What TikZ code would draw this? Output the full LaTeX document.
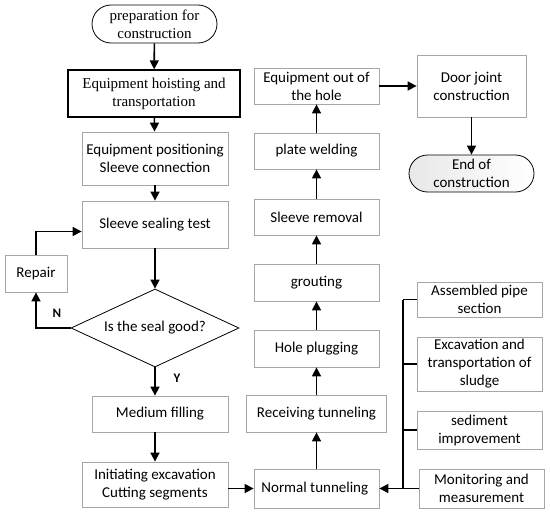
\documentclass[tikz,border=0pt]{standalone}
\usepackage{fontspec}
\setmainfont{Carlito}
\newfontfamily\serifface{Liberation Serif}
\usetikzlibrary{shapes.geometric,arrows.meta}

\begin{document}
\begin{tikzpicture}[x=1pt, y=-1pt,
        box/.style={draw=gray!70, line width=0.8pt, align=center, inner sep=0pt,
            minimum width=125pt, minimum height=37pt, font=\fontsize{15}{18}\selectfont},
        serifbox/.style={box, draw=black, font=\serifface\fontsize{15}{18}\selectfont},
        arr/.style={line width=1.6pt, -{Triangle[length=9pt, width=9pt]}},
        link/.style={line width=1.6pt}
    ]
    \useasboundingbox (0,0) rectangle (550,522);

    % left column
    \node[serifbox, rounded corners=19pt, minimum width=125pt, minimum height=38pt] (prep) at (154.5,24) {preparation for\\construction};
    \node[serifbox, line width=1.4pt, minimum width=172pt, minimum height=47pt] (hoist) at (154,93.5) {Equipment hoisting and\\transportation};
    \node[box, minimum width=146pt, minimum height=53pt] (posit) at (155,158.5) {Equipment positioning\\Sleeve connection};
    \node[box, minimum width=146pt, minimum height=47pt] (seal) at (155,224.5) {Sleeve sealing test};
    \node[box, minimum width=62pt] (repair) at (36,273.5) {Repair};
    \node[box, draw=black, diamond, aspect=2.15, minimum width=168pt, minimum height=78pt] (check) at (155,328) {Is the seal good?};
    \node[box, minimum width=136pt, minimum height=36pt] (medium) at (160,414) {Medium filling};
    \node[box, minimum width=146pt, minimum height=45pt] (init) at (155,484.5) {Initiating excavation\\Cutting segments};

    \draw[arr] (prep) -- (hoist);
    \draw[arr] (hoist) -- (posit);
    \draw[arr] (posit) -- (seal);
    \draw[arr] (seal) -- (check);
    \draw[arr] (check.south) -- (check.south |- medium.north);
    \draw[arr] (init.north |- medium.south) -- (init.north);
    \draw[arr] (check.west) -| (repair.south);
    \draw[arr] (repair.north) |- ([yshift=-7pt]seal.west);
    \node[font=\bfseries\fontsize{13}{15}\selectfont] (no) at (57,313) {N};
    \node[font=\bfseries\fontsize{13}{15}\selectfont] (yes) at (177,378) {Y};

    % middle column
    \foreach \name/\y/\w/\h/\txt in {
        out/86/125/36/{Equipment out of\\the hole},
        weld/151/125/36/{plate welding},
        remove/217/125/36/{Sleeve removal},
        grout/282.5/125/37/{grouting},
        plug/348.5/125/37/{Hole plugging},
        receive/413.5/140/37/{Receiving tunneling},
        normal/488.5/125/39/{Normal tunneling}
    } {
        \node[box, minimum width=\w pt, minimum height=\h pt] (\name) at (316.5,\y) {\txt};
    }
    \foreach \a/\b in {normal/receive, receive/plug, plug/grout, grout/remove, remove/weld, weld/out} {
        \draw[arr] (\a) -- (\b);
    }
    \draw[arr] (init.east |- normal) -- (normal.west);

    % right column
    \node[box, minimum width=109pt, minimum height=62pt] (door) at (471.5,86) {Door joint\\construction};
    \node[box, draw=black, rounded corners=18.5pt, left color=gray!18, right color=white] (finish) at (471.5,173.5) {End of\\construction};
    \draw[arr] (out) -- (door);
    \draw[arr] (door) -- (finish);

    \node[box, minimum height=35pt] (pipe) at (479.5,299.5) {Assembled pipe\\section};
    \node[box, minimum height=54pt] (sludge) at (479.5,364) {Excavation and\\transportation of\\sludge};
    \node[box, minimum height=38pt] (soil) at (479.5,430) {sediment\\improvement};
    \node[box, minimum height=39pt] (monitor) at (481.5,488.5) {Monitoring and\\measurement};

    \coordinate (bus) at (403,0);
    \draw[link] (pipe.west -| bus) -- (monitor.west -| bus);
    \foreach \b in {pipe, sludge, soil} {
        \draw[link] (\b.west) -- (\b.west -| bus);
    }
    \draw[arr] (monitor.west) -- (normal.east);
\end{tikzpicture}
\end{document}
